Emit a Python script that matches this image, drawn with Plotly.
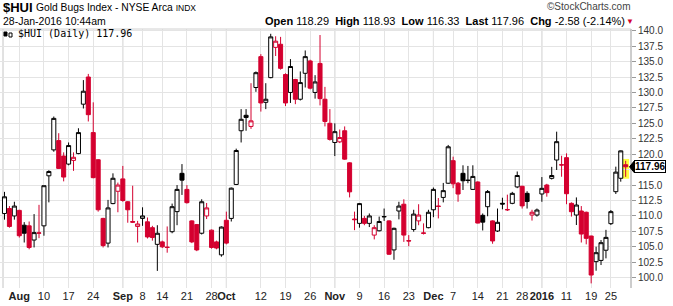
import plotly.graph_objects as go
import pandas as pd

W, H = 673, 306
PL, PR, PT, PB = 0, 631, 29, 288   # plot area in pixels

holidays = ["2015-09-07", "2015-11-26", "2015-12-25", "2016-01-01", "2016-01-18"]
dates = [d.strftime("%Y-%m-%d") for d in pd.bdate_range("2015-07-29", "2016-01-28")
         if d.strftime("%Y-%m-%d") not in holidays]

opens = [110.4, 111.2, 110.0, 110.9, 108.5, 108.4, 106.1, 107.2, 108.4, 116.5,
         120.7, 122.2, 119.7, 118.4, 119.0, 120.1, 128.1, 132.5, 123.5, 119.1,
         109.6, 105.6, 112.0, 114.0, 116.0, 112.3, 109.1, 108.3, 109.6, 109.05,
         108.1, 105.4, 105.8, 104.95, 107.45, 110.7, 116.9, 114.3, 109.2, 108.6,
         107.2, 110.0, 107.7, 105.8, 103.7, 109.3, 109.6, 115.1, 123.8, 126.3,
         124.5, 130.8, 135.8, 128.4, 132.4, 137.3, 137.8, 132.9, 130.0, 132.1,
         128.9, 133.1, 135.1, 130.0, 134.7, 128.9, 125.0, 121.9, 122.0, 123.8,
         118.6, 109.5, 108.8, 109.6, 108.8, 106.9, 107.6, 109.85, 109.2, 104.5,
         110.8, 111.9, 106.0, 107.8, 109.2, 107.25, 108.1, 111.0, 111.6, 113.0,
         115.3, 118.95, 115.3, 116.9, 115.8, 114.3, 115.5, 110.1, 111.5, 109.2,
         107.56, 112.05, 111.05, 112.04, 114.7, 114.8, 113.66, 110.15, 110.15, 113.56,
         115.01, 116.09, 119.06, 118.3, 119.44, 112.04, 110.15, 110.8, 110.6, 106.75,
         102.6, 102.8, 104.45, 108.75, 113.93, 116.1, 118.29]
highs = [113.9, 111.6, 112.3, 111.0, 109.0, 109.1, 110.3, 111.8, 114.9, 117.4,
         126.1, 123.4, 120.3, 121.9, 120.3, 124.2, 132.0, 133.0, 128.4, 119.2,
         109.7, 112.6, 116.9, 115.4, 118.1, 112.4, 114.9, 109.2, 111.4, 109.75,
         108.4, 108.5, 106.0, 108.3, 112.0, 115.0, 118.4, 115.0, 109.3, 108.7,
         112.7, 112.1, 107.8, 106.0, 108.3, 110.7, 114.6, 120.9, 127.3, 127.3,
         131.5, 133.4, 136.2, 131.5, 139.5, 139.1, 139.0, 133.1, 135.4, 132.2,
         133.4, 136.8, 135.3, 132.8, 139.3, 130.9, 127.3, 125.0, 124.0, 124.5,
         118.7, 110.7, 112.1, 110.0, 110.4, 108.5, 109.9, 111.2, 109.3, 108.1,
         112.3, 112.7, 106.9, 111.0, 111.9, 108.8, 111.0, 114.6, 112.9, 115.35,
         121.5, 119.6, 115.5, 118.2, 118.1, 118.2, 115.6, 110.4, 114.2, 109.3,
         111.2, 112.95, 113.45, 113.9, 117.2, 114.9, 114.0, 111.0, 111.2, 116.3,
         115.2, 117.95, 123.65, 119.75, 120.14, 112.2, 113.0, 111.6, 110.7, 106.8,
         105.02, 106.1, 107.75, 110.96, 117.98, 120.6, 118.93]
lows = [109.4, 108.1, 109.4, 106.5, 105.7, 104.6, 104.9, 106.4, 106.8, 112.2,
        120.4, 117.6, 115.6, 118.2, 117.3, 120.0, 127.4, 125.3, 116.1, 110.7,
        104.9, 104.9, 111.9, 110.6, 112.3, 108.9, 108.9, 105.7, 108.4, 106.35,
        106.0, 101.1, 104.8, 104.05, 107.2, 108.5, 113.4, 112.0, 105.6, 104.3,
        107.0, 109.5, 104.7, 104.6, 103.4, 105.4, 109.1, 115.0, 121.9, 123.8,
        124.1, 130.1, 126.9, 127.3, 132.3, 135.9, 133.7, 127.8, 128.3, 128.1,
        128.7, 130.8, 130.5, 129.0, 127.9, 124.5, 122.2, 119.7, 121.8, 119.1,
        113.0, 107.7, 108.1, 108.5, 108.2, 106.2, 107.5, 109.2, 103.7, 102.9,
        109.45, 105.8, 105.1, 107.45, 108.5, 107.0, 108.0, 109.8, 109.6, 112.2,
        115.2, 114.5, 112.3, 114.2, 115.3, 114.2, 108.8, 107.65, 109.95, 105.5,
        107.4, 111.07, 110.8, 111.9, 114.5, 111.2, 111.2, 109.25, 109.9, 112.3,
        113.12, 115.9, 117.44, 116.35, 111.9, 109.9, 108.53, 105.7, 105.4, 99.08,
        101.13, 102.05, 103.13, 108.53, 113.56, 115.55, 116.33]
closes = [113.1, 108.3, 111.6, 106.8, 107.2, 104.9, 107.3, 107.25, 114.9, 117.2,
          125.8, 117.7, 116.3, 121.4, 119.5, 123.5, 130.2, 126.4, 116.2, 111.0,
          105.2, 111.3, 116.1, 115.0, 112.5, 111.0, 109.0, 108.7, 110.0, 106.6,
          106.5, 107.2, 105.0, 104.9, 111.5, 114.3, 115.8, 112.15, 105.8, 104.5,
          112.3, 111.3, 104.9, 104.8, 108.2, 105.6, 114.5, 120.6, 125.65, 125.95,
          125.4, 133.2, 128.3, 128.9, 139.0, 138.3, 133.9, 128.3, 134.2, 128.9,
          131.6, 135.8, 130.7, 131.7, 129.0, 125.3, 122.4, 123.65, 122.7, 119.2,
          113.9, 109.4, 112.0, 108.8, 110.0, 108.1, 109.1, 109.9, 103.8, 108.0,
          111.6, 106.9, 105.95, 110.3, 110.15, 107.2, 110.6, 114.3, 111.55, 114.1,
          121.2, 115.2, 113.55, 115.7, 115.75, 116.4, 108.85, 109.0, 113.95, 105.95,
          108.97, 111.93, 111.0, 113.66, 116.55, 111.63, 112.35, 110.6, 110.96, 114.47,
          113.77, 116.55, 122.03, 118.25, 113.6, 110.69, 111.77, 107.07, 106.37, 100.43,
          104.05, 105.67, 106.53, 110.7, 117.1, 120.54, 117.96]

tick_dates = ["2015-08-03", "2015-08-10", "2015-08-17", "2015-08-24", "2015-09-01",
              "2015-09-08", "2015-09-14", "2015-09-21", "2015-09-28", "2015-10-01",
              "2015-10-12", "2015-10-19", "2015-10-26", "2015-11-02", "2015-11-09",
              "2015-11-16", "2015-11-23", "2015-12-01", "2015-12-07", "2015-12-14",
              "2015-12-21", "2015-12-28", "2016-01-04", "2016-01-11", "2016-01-19",
              "2016-01-25"]
tick_text = ["<b>Aug</b>", "10", "17", "24", "<b>Sep</b>", "8", "14", "21", "28",
             "<b>Oct</b>", "12", "19", "26", "<b>Nov</b>", "9", "16", "23",
             "<b>Dec</b>", "7", "14", "21", "28", "<b>2016</b>", "11", "19", "25"]
month_dates = ["2015-09-01", "2015-10-01", "2015-11-02", "2015-12-01", "2016-01-04"]
y_ticks = [100.0, 102.5, 105.0, 107.5, 110.0, 112.5, 115.0, 117.5, 120.0, 122.5,
           125.0, 127.5, 130.0, 132.5, 135.0, 137.5, 140.0]

RED = "#d4002f"
BLACK = "#000000"
FONT = "Liberation Sans, Arial, sans-serif"

# StockCharts colouring: black if close >= previous close, red otherwise
blk = {"x": [], "o": [], "h": [], "l": [], "c": []}
red = {"x": [], "o": [], "h": [], "l": [], "c": []}
for i, d in enumerate(dates):
    up = i == 0 or closes[i] >= closes[i - 1]
    g = blk if up else red
    g["x"].append(d); g["o"].append(opens[i]); g["h"].append(highs[i])
    g["l"].append(lows[i]); g["c"].append(closes[i])

fig = go.Figure()
fig.add_trace(go.Candlestick(
    x=blk["x"], open=blk["o"], high=blk["h"], low=blk["l"], close=blk["c"],
    increasing=dict(line=dict(color=BLACK, width=1), fillcolor="#ffffff"),
    decreasing=dict(line=dict(color=BLACK, width=1), fillcolor=BLACK),
    whiskerwidth=0, showlegend=False, hoverinfo="skip"))
fig.add_trace(go.Candlestick(
    x=red["x"], open=red["o"], high=red["h"], low=red["l"], close=red["c"],
    increasing=dict(line=dict(color=RED, width=1), fillcolor="#ffffff"),
    decreasing=dict(line=dict(color=RED, width=1), fillcolor=RED),
    whiskerwidth=0, showlegend=False, hoverinfo="skip"))

step = 4.93
x_first = 4.5
x0 = (PL - x_first) / step
x1 = (PR - x_first) / step
y_top = 140 + (30.7 - PT) / 6.175
y_bot = 140 - (PB - 30.7) / 6.175

last = closes[-1]
# the last-price tag hides the tick label it covers
y_ticktext = ["" if abs(v - last) < 1.0 else f"{v:.1f}" for v in y_ticks]


def px(xp):
    return (xp - PL) / (PR - PL)


def py(yp):
    return (PB - yp) / (PB - PT)


shapes = []
for md in month_dates:
    k = dates.index(md)
    shapes.append(dict(type="line", xref="x", yref="paper", x0=k, x1=k, y0=0, y1=1,
                       line=dict(color="#c4c4c4", width=1), layer="below"))
# plot border lines
shapes.append(dict(type="line", xref="paper", yref="paper", x0=1, x1=1, y0=0, y1=1,
                   line=dict(color="#9a9a9a", width=1)))
shapes.append(dict(type="line", xref="paper", yref="paper", x0=px(3), x1=px(3), y0=0, y1=1,
                   line=dict(color="#c4c4c4", width=1), layer="below"))
shapes.append(dict(type="line", xref="paper", yref="paper", x0=0, x1=1, y0=1, y1=1,
                   line=dict(color="#d0d0d0", width=1)))
# highlight of latest bar
kl = len(dates) - 1
shapes.append(dict(type="rect", xref="x", yref="y", x0=kl - 0.7, x1=kl + 0.7,
                   y0=lows[-1] - 0.3, y1=highs[-1] + 0.3,
                   fillcolor="#ffff40", line=dict(width=0), layer="below"))
# last price tag arrow
shapes.append(dict(type="path", xref="paper", yref="y",
                   path=f"M {px(629.5)},{last} L {px(634)},{last + 0.9} L {px(634)},{last - 0.9} Z",
                   fillcolor="#000000", line=dict(color="#000000", width=1)))
# small candle icon in the legend label
shapes.append(dict(type="rect", xref="paper", yref="paper", x0=px(4), x1=px(7), y0=py(36), y1=py(32),
                   fillcolor="#000", line=dict(color="#000", width=1)))
shapes.append(dict(type="rect", xref="paper", yref="paper", x0=px(9), x1=px(12), y0=py(37), y1=py(33),
                   fillcolor="#fff", line=dict(color="#000", width=1)))

annotations = [
    dict(xref="paper", yref="paper", x=px(1), y=py(8), xanchor="left", yanchor="middle",
         text="<b>$HUI</b>", showarrow=False, font=dict(family=FONT, size=13, color="#000")),
    dict(xref="paper", yref="paper", x=px(34), y=py(8), xanchor="left", yanchor="middle",
         text="Gold Bugs Index - NYSE Arca <span style='font-size:8.5px'>INDX</span>",
         showarrow=False, font=dict(family=FONT, size=10.3, color="#000")),
    dict(xref="paper", yref="paper", x=px(1), y=py(21.5), xanchor="left", yanchor="middle",
         text="28-Jan-2016 10:44am", showarrow=False, font=dict(family=FONT, size=10.5, color="#000")),
    dict(xref="paper", yref="paper", x=px(627), y=py(21.5), xanchor="right", yanchor="middle",
         text="<b>Open</b> 118.29  <b>High</b> 118.93  <b>Low</b> 116.33  <b>Last</b> 117.96  "
              "<b>Chg</b> -2.58 (-2.14%)",
         showarrow=False, font=dict(family=FONT, size=11, color="#000")),
    dict(xref="paper", yref="paper", x=px(636), y=py(21.5), xanchor="right", yanchor="middle",
         text="▼", showarrow=False, font=dict(family=FONT, size=8, color=RED)),
    dict(xref="paper", yref="paper", x=px(633), y=py(7), xanchor="right", yanchor="middle",
         text="©StockCharts.com", showarrow=False, font=dict(family=FONT, size=10, color="#444")),
    dict(xref="paper", yref="paper", x=px(16), y=py(34), xanchor="left", yanchor="middle",
         text="$HUI (Daily) 117.96", showarrow=False,
         font=dict(family="DejaVu Sans Mono, monospace", size=10, color="#000")),
    dict(xref="paper", yref="y", x=px(634), y=last, xanchor="left", yanchor="middle",
         text="<b>117.96</b>", showarrow=False, bgcolor="#ffffff", bordercolor="#000000",
         borderwidth=1, borderpad=0, font=dict(family=FONT, size=10, color="#000")),
]

fig.update_layout(
    width=W, height=H,
    margin=dict(l=PL, r=W - PR, t=PT, b=H - PB, pad=0, autoexpand=False),
    paper_bgcolor="#ffffff", plot_bgcolor="#ffffff",
    boxgap=0.18, boxgroupgap=0, boxmode="overlay",
    showlegend=False,
    shapes=shapes, annotations=annotations,
    xaxis=dict(type="category", categoryorder="array", categoryarray=dates,
               range=[x0, x1], rangeslider=dict(visible=False), automargin=False,
               tickmode="array", tickvals=tick_dates, ticktext=tick_text, tickangle=0,
               showgrid=True, gridcolor="#e4e4e4", gridwidth=1,
               ticks="", tickfont=dict(family=FONT, size=11, color="#222"),
               showline=False, zeroline=False, fixedrange=True),
    yaxis=dict(side="right", range=[y_bot, y_top], automargin=False,
               tickmode="array", tickvals=y_ticks, ticktext=y_ticktext,
               showgrid=True, gridcolor="#e4e4e4", gridwidth=1,
               ticks="outside", ticklen=4, tickcolor="#999", showline=False, zeroline=False,
               tickfont=dict(family=FONT, size=10, color="#333"), fixedrange=True),
)

fig.write_html("out.html")
